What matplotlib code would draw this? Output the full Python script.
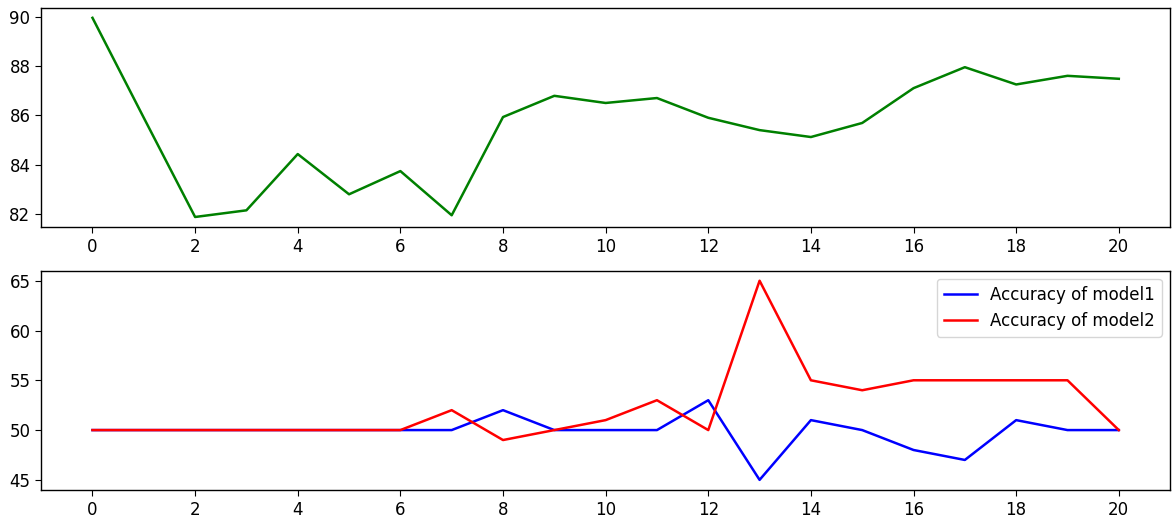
import matplotlib
matplotlib.use("Agg")
import matplotlib.pyplot as plt

epochs = list(range(21))
overall = [89.95, 85.9, 81.88, 82.15, 84.43, 82.8, 83.74, 81.95, 85.93, 86.79, 86.5,
           86.7, 85.9, 85.4, 85.12, 85.69, 87.1, 87.95, 87.25, 87.6, 87.48]
model1 = [50, 50, 50, 50, 50, 50, 50, 50, 52, 50, 50, 50, 53, 45, 51, 50, 48, 47, 51, 50, 50]
model2 = [50, 50, 50, 50, 50, 50, 50, 52, 49, 50, 51, 53, 50, 65, 55, 54, 55, 55, 55, 55, 50]

plt.rcParams["font.size"] = 12
plt.rcParams["lines.linewidth"] = 1.8
plt.rcParams["axes.linewidth"] = 1.0
plt.rcParams["xtick.major.size"] = 4.2
plt.rcParams["ytick.major.size"] = 4.2

fig, (ax1, ax2) = plt.subplots(2, 1, figsize=(11.76, 5.25), dpi=100)
fig.subplots_adjust(left=0.035, right=0.995, top=0.985, bottom=0.067, hspace=0.2)

ax1.plot(epochs, overall, color="green")
ax1.set_xticks(range(0, 21, 2))

ax2.plot(epochs, model1, color="blue", label="Accuracy of model1")
ax2.plot(epochs, model2, color="red", label="Accuracy of model2")
ax2.set_xticks(range(0, 21, 2))
ax2.legend(loc="upper right")

fig.savefig("out.png")
